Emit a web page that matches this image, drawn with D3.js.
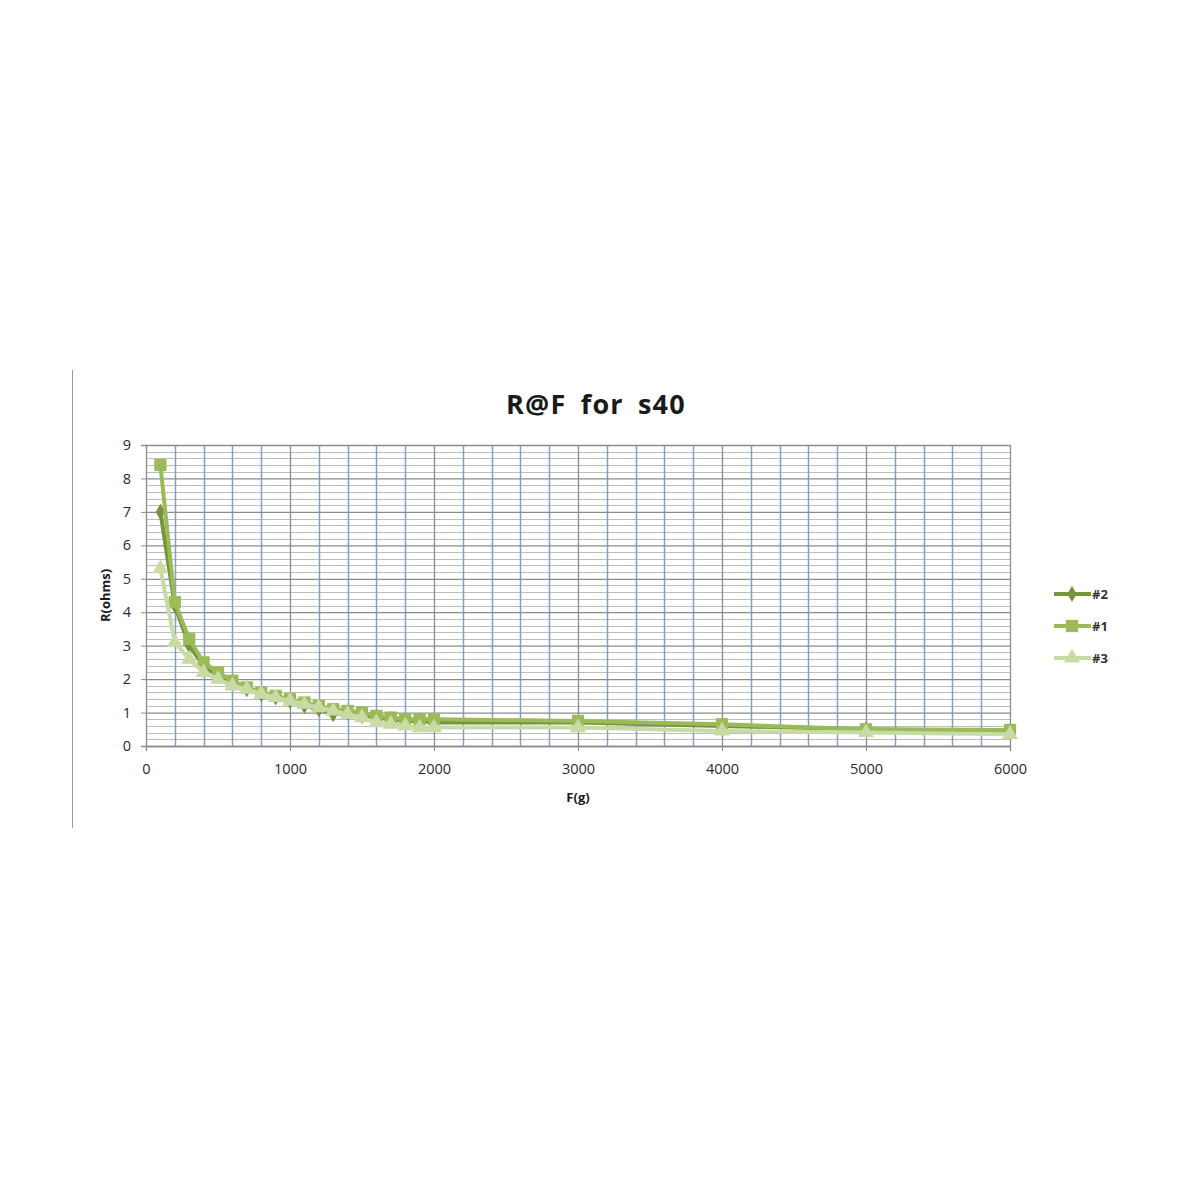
<!DOCTYPE html>
<html lang="en">
<head>
<meta charset="UTF-8">
<title>R@F for s40</title>
<style>
    body { margin: 0; background: #ffffff; }
    #chart svg { display: block; }
    .tick text { font-family: 'Open Sans', 'Liberation Sans', sans-serif; font-size: 14.5px; fill: #2a2a2a; }
</style>
</head>
<body>
<div id="chart"></div>
<script src="https://cdnjs.cloudflare.com/ajax/libs/d3/7.8.5/d3.min.js"></script>
<script>
    // force in grams
    const forces = [100, 200, 300, 400, 500, 600, 700, 800, 900, 1000, 1100, 1200,
        1300, 1400, 1500, 1600, 1700, 1800, 1900, 2000, 3000, 4000, 5000, 6000];
    // resistance in ohms, per sensor
    const s2 = [7.0, 4.2, 3.0, 2.4, 2.1, 1.9, 1.7, 1.55, 1.45, 1.35, 1.2, 1.1,
        0.95, 1.0, 0.9, 0.85, 0.8, 0.75, 0.75, 0.7, 0.7, 0.6, 0.5, 0.45];
    const s1 = [8.4, 4.3, 3.2, 2.5, 2.2, 1.95, 1.75, 1.6, 1.5, 1.4, 1.3, 1.2,
        1.1, 1.05, 1.0, 0.9, 0.85, 0.8, 0.8, 0.8, 0.75, 0.65, 0.5, 0.48];
    const s3 = [5.3, 3.1, 2.6, 2.2, 2.0, 1.8, 1.7, 1.55, 1.45, 1.35, 1.25, 1.15,
        1.05, 0.95, 0.85, 0.7, 0.65, 0.6, 0.55, 0.55, 0.55, 0.45, 0.4, 0.35];
    const seriesNames = ['#2', '#1', '#3'];
    const xTicks = [0, 1000, 2000, 3000, 4000, 5000, 6000];
    const yTicks = [0, 1, 2, 3, 4, 5, 6, 7, 8, 9];

    const seriesStyle = {
        '#2': { color: '#77933c', symbol: d3.symbolDiamond, size: 75 },
        '#1': { color: '#9bbb59', symbol: d3.symbolSquare, size: 150 },
        '#3': { color: '#c8dba5', symbol: d3.symbolTriangle, size: 110 }
    };

    const series = [
        { name: '#2', values: s2 },
        { name: '#1', values: s1 },
        { name: '#3', values: s3 }
    ];

    const W = 1200, H = 1200;
    const plot = { left: 146, right: 1010, top: 445, bottom: 746 };
    const font = "'Open Sans', 'Liberation Sans', sans-serif";

    const svg = d3.select('#chart').append('svg')
        .attr('width', W)
        .attr('height', H);

    // thin rule at the left of the picture
    svg.append('line')
        .attr('x1', 72.5).attr('x2', 72.5)
        .attr('y1', 370).attr('y2', 828)
        .attr('stroke', '#9a9a9a')
        .attr('stroke-width', 1);

    const x = d3.scaleLinear().domain([0, 6000]).range([plot.left, plot.right]);
    const y = d3.scaleLinear().domain([0, 9]).range([plot.bottom, plot.top]);

    // minor horizontal grid (0.2 ohm)
    const minorY = d3.range(0, 9.001, 0.2).filter(function (v) {
        return Math.abs(v - Math.round(v)) > 0.01;
    });
    svg.append('g').selectAll('line')
        .data(minorY)
        .enter().append('line')
        .attr('x1', plot.left).attr('x2', plot.right)
        .attr('y1', function (d) { return Math.round(y(d)) + 0.5; })
        .attr('y2', function (d) { return Math.round(y(d)) + 0.5; })
        .attr('stroke', '#bdbdbd')
        .attr('stroke-width', 1.2);

    // minor vertical grid (200 g)
    const minorX = d3.range(200, 6000, 200).filter(function (v) { return v % 1000 !== 0; });
    svg.append('g').selectAll('line')
        .data(minorX)
        .enter().append('line')
        .attr('x1', function (d) { return Math.round(x(d)) + 0.5; })
        .attr('x2', function (d) { return Math.round(x(d)) + 0.5; })
        .attr('y1', plot.top).attr('y2', plot.bottom)
        .attr('stroke', '#7f9fcc')
        .attr('stroke-width', 1.5);

    // major grid
    svg.append('g')
        .attr('transform', 'translate(' + plot.left + ',0)')
        .call(d3.axisLeft(y).tickValues(yTicks).tickSize(-(plot.right - plot.left)).tickFormat(''))
        .call(function (g) { g.select('.domain').remove(); })
        .selectAll('line').attr('stroke', '#8c8c8c').attr('stroke-width', 1.3);
    svg.append('g')
        .attr('transform', 'translate(0,' + plot.top + ')')
        .call(d3.axisBottom(x).tickValues(xTicks.slice(1)).tickSize(plot.bottom - plot.top).tickFormat(''))
        .call(function (g) { g.select('.domain').remove(); })
        .selectAll('line').attr('stroke', '#8c8c8c').attr('stroke-width', 1.3);

    // axes
    const yAxis = svg.append('g')
        .attr('transform', 'translate(' + plot.left + ',0)')
        .call(d3.axisLeft(y).tickValues(yTicks).tickSize(5).tickPadding(10).tickFormat(d3.format('d')));
    const xAxis = svg.append('g')
        .attr('transform', 'translate(0,' + plot.bottom + ')')
        .call(d3.axisBottom(x).tickValues(xTicks).tickSize(5).tickPadding(13).tickFormat(d3.format('d')));
    [yAxis, xAxis].forEach(function (a) {
        a.select('.domain').attr('stroke', '#8c8c8c').attr('stroke-width', 1.3);
        a.selectAll('.tick line').attr('stroke', '#8c8c8c');
    });

    // lines and markers, in legend order so #3 ends on top
    const line = d3.line()
        .x(function (d, i) { return x(forces[i]); })
        .y(function (d) { return y(d); });

    series.forEach(function (s) {
        const st = seriesStyle[s.name];
        const g = svg.append('g').attr('class', 'series');
        g.append('path')
            .datum(s.values)
            .attr('fill', 'none')
            .attr('stroke', st.color)
            .attr('stroke-width', 4)
            .attr('stroke-linejoin', 'round')
            .attr('d', line);
        g.selectAll('path.mark')
            .data(s.values)
            .enter().append('path')
            .attr('class', 'mark')
            .attr('fill', st.color)
            .attr('transform', function (d, i) {
                return 'translate(' + x(forces[i]) + ',' + y(d) + ')';
            })
            .attr('d', d3.symbol().type(st.symbol).size(st.size));
    });

    // title
    svg.append('text')
        .attr('x', 596).attr('y', 414)
        .attr('text-anchor', 'middle')
        .attr('font-family', font)
        .attr('font-weight', 'bold')
        .attr('font-size', 27)
        .attr('letter-spacing', 1.2)
        .attr('word-spacing', 6)
        .attr('fill', '#1a1a1a')
        .text('R@F for s40');

    // axis titles
    svg.append('text')
        .attr('transform', 'translate(110,' + ((plot.top + plot.bottom) / 2) + ') rotate(-90)')
        .attr('text-anchor', 'middle')
        .attr('font-family', font)
        .attr('font-weight', 'bold')
        .attr('font-size', 13)
        .attr('fill', '#1a1a1a')
        .text('R(ohms)');
    svg.append('text')
        .attr('x', 578).attr('y', 802)
        .attr('text-anchor', 'middle')
        .attr('font-family', font)
        .attr('font-weight', 'bold')
        .attr('font-size', 13)
        .attr('fill', '#1a1a1a')
        .text('F(g)');

    // legend
    const legend = svg.append('g').attr('transform', 'translate(1054,594)');
    seriesNames.forEach(function (name, i) {
        const st = seriesStyle[name];
        const row = legend.append('g').attr('transform', 'translate(0,' + (i * 32) + ')');
        row.append('line')
            .attr('x1', 0).attr('x2', 37)
            .attr('stroke', st.color).attr('stroke-width', 4);
        row.append('path')
            .attr('transform', 'translate(18,0)')
            .attr('fill', st.color)
            .attr('d', d3.symbol().type(st.symbol).size(st.size));
        row.append('text')
            .attr('x', 38).attr('dy', '0.35em')
            .attr('font-family', font)
            .attr('font-weight', 'bold')
            .attr('font-size', 13)
            .attr('fill', '#333')
            .text(name);
    });
</script>
</body>
</html>
